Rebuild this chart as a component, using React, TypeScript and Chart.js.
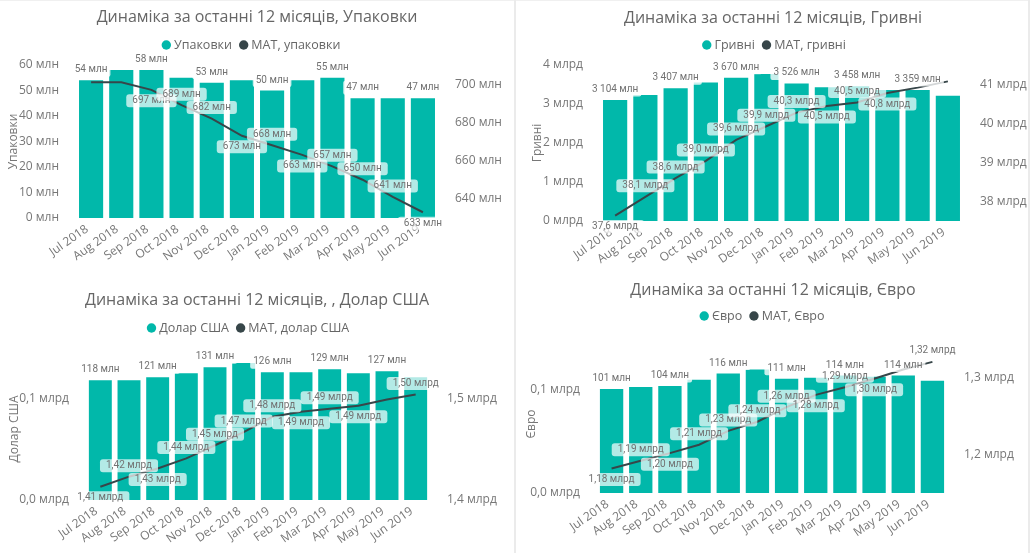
import React, { useEffect, useRef } from 'react';
import { Chart, registerables } from 'chart.js';

Chart.register(...registerables);

const FONT = "'Segoe UI', 'Open Sans', 'Noto Sans', sans-serif";
const LABEL_FONT = "10px Roboto, 'Liberation Sans', sans-serif";
const TEAL = '#01B8AA';
const SLATE = '#374649';

const months = [
  'Jul 2018', 'Aug 2018', 'Sep 2018', 'Oct 2018', 'Nov 2018', 'Dec 2018',
  'Jan 2019', 'Feb 2019', 'Mar 2019', 'Apr 2019', 'May 2019', 'Jun 2019',
];

// Упаковки: monthly volume and moving annual total, both in млн
const packsMonthly = [54, 58, 58, 55, 53, 54, 50, 54, 55, 47, 47, 47];
const packsMat = [701, 701, 697, 689, 682, 673, 668, 663, 657, 650, 641, 633];
const packsLeftTicks = [0, 10, 20, 30, 40, 50, 60];
const packsRightTicks = [640, 660, 680, 700];

// Гривні: monthly in млн, MAT in млрд
const uahMonthly = [3104, 3230, 3407, 3550, 3670, 3770, 3526, 3430, 3458, 3360, 3359, 3210];
const uahMat = [37.64, 38.12, 38.6, 39.04, 39.58, 39.93, 40.28, 40.45, 40.54, 40.78, 40.92, 41.08];
const uahLeftTicks = [0, 1000, 2000, 3000, 4000];
const uahRightTicks = [38, 39, 40, 41];

// Долар США: monthly in млн, MAT in млрд
const usdMonthly = [118, 118, 121, 125, 131, 135, 126, 126, 129, 125, 127, 121];
const usdMat = [1.413, 1.423, 1.431, 1.441, 1.454, 1.467, 1.482, 1.487, 1.49, 1.493, 1.499, 1.504];
const usdLeftTicks = [0, 100];
const usdRightTicks = [1.4, 1.5];

// Євро: monthly in млн, MAT in млрд
const eurMonthly = [101, 103, 104, 110, 116, 120, 111, 112, 114, 113, 114, 109];
const eurMat = [1.182, 1.192, 1.202, 1.213, 1.231, 1.243, 1.262, 1.278, 1.288, 1.299, 1.311, 1.321];
const eurLeftTicks = [0, 100];
const eurRightTicks = [1.2, 1.3];

const comma = (v: number, d: number) => v.toFixed(d).replace('.', ',');
const mln = (v: number) => `${v} млн`;
const groupedMln = (v: number) => `${String(v).replace(/\B(?=(\d{3})+(?!\d))/g, ' ')} млн`;

type PanelCfg = {
  key: string;
  left: number; top: number; width: number; height: number;
  area: { left: number; right: number; top: number; bottom: number };
  titleY: number; legendY: number; centerX: number;
  title: string; legend: [string, string]; axisTitle: string; axisTitlePad: number;
  bars: number[]; mat: number[];
  leftRange: [number, number]; rightRange: [number, number];
  leftTicks: number[]; rightTicks: number[];
  fmtLeft: (v: number) => string; fmtRight: (v: number) => string;
  fmtBar: (v: number) => string; fmtMat: (v: number) => string;
  barLabelIdx: number[];
  matSides: number[]; // 1 above the point, -1 below, 0 no label
};

const panels: PanelCfg[] = [
  {
    key: 'packs', left: 0, top: 0, width: 514, height: 270,
    area: { left: 76, right: 438, top: 65, bottom: 218 },
    titleY: 17, legendY: 45, centerX: 251,
    title: 'Динаміка за останні 12 місяців, Упаковки',
    legend: ['Упаковки', 'MAT, упаковки'], axisTitle: 'Упаковки', axisTitlePad: 6.8,
    bars: packsMonthly, mat: packsMat,
    leftRange: [0, 60], rightRange: [630, 710],
    leftTicks: packsLeftTicks, rightTicks: packsRightTicks,
    fmtLeft: mln, fmtRight: mln, fmtBar: mln, fmtMat: mln,
    barLabelIdx: [0, 2, 4, 6, 8, 9, 11],
    matSides: [0, 0, -1, 1, 1, -1, 1, -1, 1, 1, 1, -1],
  },
  {
    key: 'uah', left: 516, top: 0, width: 514, height: 270,
    area: { left: 84, right: 447, top: 65, bottom: 221 },
    titleY: 18, legendY: 45, centerX: 258,
    title: 'Динаміка за останні 12 місяців, Гривні',
    legend: ['Гривні', 'MAT, гривні'], axisTitle: 'Гривні', axisTitlePad: 14.8,
    bars: uahMonthly, mat: uahMat,
    leftRange: [0, 4000], rightRange: [37.5, 41.5],
    leftTicks: uahLeftTicks, rightTicks: uahRightTicks,
    fmtLeft: (v) => `${v / 1000} млрд`, fmtRight: (v) => `${v} млрд`,
    fmtBar: groupedMln, fmtMat: (v) => `${comma(v, 1)} млрд`,
    barLabelIdx: [0, 2, 4, 6, 8, 10],
    matSides: [-1, 1, 1, 1, 1, 1, 1, -1, 1, -1, 0, 0],
  },
  {
    key: 'usd', left: 0, top: 278, width: 514, height: 275,
    area: { left: 86, right: 430, top: 80, bottom: 222 },
    titleY: 22, legendY: 50, centerX: 248,
    title: 'Динаміка за останні 12 місяців, , Долар США',
    legend: ['Долар США', 'MAT, долар США'], axisTitle: 'Долар США', axisTitlePad: 7.8,
    bars: usdMonthly, mat: usdMat,
    leftRange: [0, 140], rightRange: [1.4, 1.54],
    leftTicks: usdLeftTicks, rightTicks: usdRightTicks,
    fmtLeft: (v) => `${comma(v / 1000, 1)} млрд`, fmtRight: (v) => `${comma(v, 1)} млрд`,
    fmtBar: mln, fmtMat: (v) => `${comma(v, 2)} млрд`,
    barLabelIdx: [0, 2, 4, 6, 8, 10],
    matSides: [-1, 1, -1, 1, 1, 1, 1, -1, 1, -1, 0, 1],
  },
  {
    key: 'eur', left: 516, top: 278, width: 514, height: 275,
    area: { left: 81, right: 431, top: 77, bottom: 215 },
    titleY: 12, legendY: 38, centerX: 246,
    title: 'Динаміка за останні 12 місяців, Євро',
    legend: ['Євро', 'MAT, Євро'], axisTitle: 'Євро', axisTitlePad: 8.8,
    bars: eurMonthly, mat: eurMat,
    leftRange: [0, 134], rightRange: [1.15, 1.33],
    leftTicks: eurLeftTicks, rightTicks: eurRightTicks,
    fmtLeft: (v) => `${comma(v / 1000, 1)} млрд`, fmtRight: (v) => `${comma(v, 1)} млрд`,
    fmtBar: mln, fmtMat: (v) => `${comma(v, 2)} млрд`,
    barLabelIdx: [0, 2, 4, 6, 8, 10],
    matSides: [-1, 1, -1, 1, 1, 1, 1, -1, 1, -1, 0, 1],
  },
];

function roundRect(ctx: CanvasRenderingContext2D, x: number, y: number, w: number, h: number, r: number) {
  ctx.beginPath();
  ctx.moveTo(x + r, y);
  ctx.arcTo(x + w, y, x + w, y + h, r);
  ctx.arcTo(x + w, y + h, x, y + h, r);
  ctx.arcTo(x, y + h, x, y, r);
  ctx.arcTo(x, y, x + w, y, r);
  ctx.closePath();
}

// Legend row under the title: dot + text per series, centred on the panel
const legendPlugin = (cfg: PanelCfg) => ({
  id: 'panelLegend',
  afterDraw(chart: Chart) {
    const ctx = chart.ctx;
    ctx.save();
    ctx.font = `12.5px ${FONT}`;
    ctx.textBaseline = 'middle';
    ctx.textAlign = 'left';
    const items = [
      { text: cfg.legend[0], color: TEAL },
      { text: cfg.legend[1], color: SLATE },
    ];
    const r = 4.7, gap = 3, spacing = 7;
    const widths = items.map((it) => 2 * r + gap + ctx.measureText(it.text).width);
    const total = widths.reduce((a, b) => a + b, 0) + spacing * (items.length - 1);
    let x = cfg.centerX - total / 2;
    items.forEach((it, i) => {
      ctx.fillStyle = it.color;
      ctx.beginPath();
      ctx.arc(x + r, cfg.legendY, r, 0, Math.PI * 2);
      ctx.fill();
      ctx.fillStyle = '#666666';
      ctx.fillText(it.text, x + 2 * r + gap, cfg.legendY);
      x += widths[i] + spacing;
    });
    ctx.restore();
  },
});

// Value labels: plain tags above selected bars, boxed tags next to the MAT line
const valueLabelPlugin = (cfg: PanelCfg) => ({
  id: 'valueLabels',
  afterDatasetsDraw(chart: Chart) {
    const ctx = chart.ctx;
    const barMeta = chart.getDatasetMeta(0);
    const lineMeta = chart.getDatasetMeta(1);
    ctx.save();
    ctx.font = LABEL_FONT;
    ctx.textAlign = 'center';
    ctx.textBaseline = 'middle';
    cfg.barLabelIdx.forEach((i) => {
      const el = barMeta.data[i] as any;
      const text = cfg.fmtBar(cfg.bars[i]);
      const w = ctx.measureText(text).width + 6;
      const cy = el.y - 10.5;
      ctx.fillStyle = 'rgba(255,255,255,0.78)';
      roundRect(ctx, el.x - w / 2, cy - 7, w, 14, 2);
      ctx.fill();
      ctx.fillStyle = '#727272';
      ctx.fillText(text, el.x, cy);
    });
    cfg.matSides.forEach((side, i) => {
      if (!side) return;
      const el = lineMeta.data[i] as any;
      const text = cfg.fmtMat(cfg.mat[i]);
      const w = ctx.measureText(text).width + 12;
      const cy = el.y - side * 11;
      ctx.fillStyle = 'rgba(255,255,255,0.7)';
      roundRect(ctx, el.x - w / 2, cy - 6.5, w, 13, 3);
      ctx.fill();
      ctx.fillStyle = '#727272';
      ctx.fillText(text, el.x, cy);
    });
    ctx.restore();
  },
});

function ComboPanel({ cfg }: { cfg: PanelCfg }) {
  const ref = useRef<HTMLCanvasElement>(null);

  useEffect(() => {
    const canvas = ref.current;
    if (!canvas) return;
    const titleLine = 16 * 1.2;
    const tickFont = { size: 12, family: FONT };
    const chart = new Chart(canvas, {
      type: 'bar',
      data: {
        labels: months,
        datasets: [
          {
            type: 'bar',
            label: cfg.legend[0],
            data: cfg.bars,
            yAxisID: 'y',
            backgroundColor: TEAL,
            barPercentage: 0.8,
            categoryPercentage: 1,
            order: 1,
          },
          {
            type: 'line',
            label: cfg.legend[1],
            data: cfg.mat,
            yAxisID: 'y1',
            borderColor: SLATE,
            borderWidth: 2,
            pointRadius: 0,
            tension: 0,
            order: 0,
          },
        ] as any,
      },
      options: {
        responsive: false,
        animation: false,
        devicePixelRatio: 1,
        events: [],
        layout: { padding: 0 },
        plugins: {
          legend: { display: false },
          tooltip: { enabled: false },
          title: {
            display: true,
            text: cfg.title,
            color: '#666666',
            font: { size: 16, family: FONT, weight: 'normal', lineHeight: 1.2 },
            padding: {
              top: cfg.titleY - titleLine / 2,
              bottom: cfg.area.top - cfg.titleY - titleLine / 2,
            },
          },
        },
        scales: {
          x: {
            type: 'category',
            grid: { display: false, drawTicks: false },
            border: { display: false },
            ticks: {
              autoSkip: false,
              minRotation: 35,
              maxRotation: 35,
              color: '#777777',
              font: tickFont,
              padding: 4,
              labelOffset: -4,
            },
            afterFit: (s: any) => { s.height = cfg.height - cfg.area.bottom; },
          },
          y: {
            type: 'linear',
            position: 'left',
            min: cfg.leftRange[0],
            max: cfg.leftRange[1],
            grid: { display: false, drawTicks: false },
            border: { display: false },
            ticks: {
              color: '#777777',
              font: tickFont,
              padding: 17,
              callback: (v: any) => cfg.fmtLeft(Number(v)),
            },
            title: {
              display: true,
              text: cfg.axisTitle,
              color: '#777777',
              font: { size: 12, family: FONT },
              padding: { top: cfg.axisTitlePad, bottom: 0 },
            },
            afterBuildTicks: (s: any) => { s.ticks = cfg.leftTicks.map((value) => ({ value })); },
            afterFit: (s: any) => { s.width = cfg.area.left; },
          },
          y1: {
            type: 'linear',
            position: 'right',
            min: cfg.rightRange[0],
            max: cfg.rightRange[1],
            grid: { display: false, drawTicks: false },
            border: { display: false },
            ticks: {
              color: '#777777',
              font: tickFont,
              padding: 17,
              callback: (v: any) => cfg.fmtRight(Number(v)),
            },
            afterBuildTicks: (s: any) => { s.ticks = cfg.rightTicks.map((value) => ({ value })); },
            afterFit: (s: any) => { s.width = cfg.width - cfg.area.right; },
          },
        },
      } as any,
      plugins: [legendPlugin(cfg), valueLabelPlugin(cfg)],
    });
    return () => chart.destroy();
  }, [cfg]);

  return (
    <canvas
      ref={ref}
      width={cfg.width}
      height={cfg.height}
      style={{ position: 'absolute', left: cfg.left, top: cfg.top, width: cfg.width, height: cfg.height }}
    />
  );
}

export default function App() {
  return (
    <div style={{ position: 'fixed', left: 0, top: 0, width: 1032, height: 553, background: '#ffffff', overflow: 'hidden' }}>
      {panels.map((p) => (
        <ComboPanel key={p.key} cfg={p} />
      ))}
      <div style={{ position: 'absolute', left: 0, top: 0, width: 1030, height: 1, background: '#f0f0f0' }} />
      <div style={{ position: 'absolute', left: 514, top: 0, width: 2, height: 553, background: '#ebebeb' }} />
      <div style={{ position: 'absolute', left: 1028, top: 0, width: 2, height: 553, background: '#ebebeb' }} />
    </div>
  );
}
